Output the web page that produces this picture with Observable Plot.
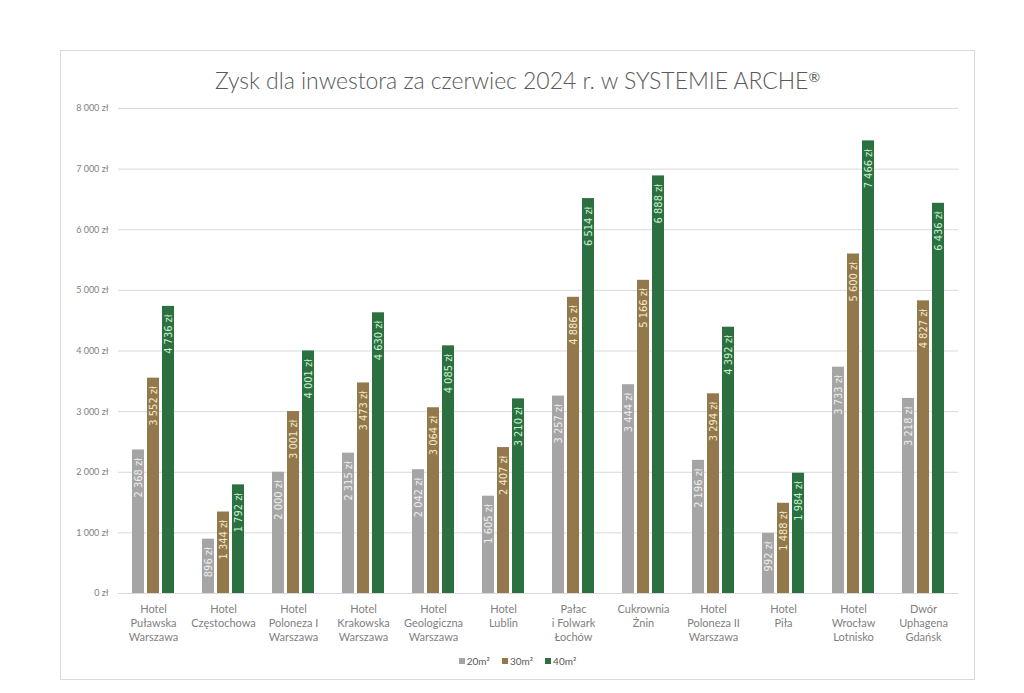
<!DOCTYPE html>
<html>
<head>
<meta charset="utf-8">
<script src="https://cdn.jsdelivr.net/npm/d3@7"></script>
<script src="https://cdn.jsdelivr.net/npm/@observablehq/plot@0.6"></script>
<style>
  body { margin: 0; background: #fff; width: 1024px; height: 693px; position: relative; overflow: hidden; font-family: Lato, "Open Sans", sans-serif; }
  #box { position: absolute; left: 60px; top: 50px; width: 915px; height: 630px; border: 1px solid #d9d9d9; box-sizing: border-box; }
  #title { position: absolute; left: 60px; width: 915px; top: 63px; text-align: center; font-size: 23px; line-height: 28px; color: #595959; font-weight: 300; letter-spacing: -0.05px; }
  #title .reg { font-size: 14px; vertical-align: 7px; font-weight: 400; }
  #chart { position: absolute; left: 61px; top: 98px; }
  #legend { position: absolute; left: 60px; width: 915px; top: 653px; text-align: center; font-size: 10px; line-height: 16px; color: #595959; }
  #legend span.item { margin: 0 6px; }
  #legend span.sw { display: inline-block; width: 6px; height: 6px; margin-right: 2px; vertical-align: 1px; }
</style>
</head>
<body>
<div id="box"></div>
<div id="title">Zysk dla inwestora za czerwiec 2024 r. w SYSTEMIE ARCHE<span class="reg">®</span></div>
<div id="chart"></div>
<div id="legend"></div>
<script>
const categories = [
  "Hotel\nPuławska\nWarszawa",
  "Hotel\nCzęstochowa",
  "Hotel\nPoloneza I\nWarszawa",
  "Hotel\nKrakowska\nWarszawa",
  "Hotel\nGeologiczna\nWarszawa",
  "Hotel\nLublin",
  "Pałac\ni Folwark\nŁochów",
  "Cukrownia\nŻnin",
  "Hotel\nPoloneza II\nWarszawa",
  "Hotel\nPiła",
  "Hotel\nWrocław\nLotnisko",
  "Dwór\nUphagena\nGdańsk"
];
const seriesNames = ["20m²", "30m²", "40m²"];
const values20 = [2368, 896, 2000, 2315, 2042, 1605, 3257, 3444, 2196, 992, 3733, 3218];
const values30 = [3552, 1344, 3001, 3473, 3064, 2407, 4886, 5166, 3294, 1488, 5600, 4827];
const values40 = [4736, 1792, 4001, 4630, 4085, 3210, 6514, 6888, 4392, 1984, 7466, 6436];
const yTicks = [0, 1000, 2000, 3000, 4000, 5000, 6000, 7000, 8000];
const seriesColors = ["#a5a5a5", "#93784b", "#2c6f41"];
const labelColors = ["#eeeeee", "#f3e9c9", "#c9f0cc"];

const loc = d3.formatLocale({thousands: "\u00a0", grouping: [3], decimal: ",", currency: ["", " zł"]});
const fmt = v => loc.format(",")(v).replace(/\u00a0/g, " ") + " zł";

const seriesValues = [values20, values30, values40];
const data = [];
categories.forEach((c, i) => {
  seriesNames.forEach((s, j) => {
    data.push({cat: c, series: s, value: seriesValues[j][i], si: j});
  });
});

const chart = Plot.plot({
  width: 913,
  height: 550,
  marginTop: 10,
  marginBottom: 55,
  marginLeft: 54,
  marginRight: 14,
  style: {background: "transparent"},
  fx: {domain: categories, padding: 0, label: null},
  x: {domain: seriesNames, paddingInner: 0.22, paddingOuter: 0.85, axis: null},
  y: {domain: [0, 8000], axis: null},
  color: {domain: seriesNames, range: seriesColors},
  marks: [
    Plot.ruleY(yTicks, {stroke: "#d9d9d9", strokeWidth: 1}),
    Plot.barY(data, {fx: "cat", x: "series", y: "value", fill: "series"}),
    Plot.text(data, {
      fx: "cat", x: "series", y: "value",
      text: d => fmt(d.value),
      rotate: -90,
      textAnchor: "end",
      dy: 8,
      fill: d => labelColors[d.si],
      fontSize: 11,
      fontFamily: "'Liberation Sans Narrow', 'DejaVu Sans Condensed', sans-serif"
    }),
    Plot.axisY({ticks: yTicks, tickFormat: fmt, tickSize: 0, tickPadding: 10, fontSize: 9, fill: "#7f7f7f", label: null, fontFamily: "Lato, sans-serif"}),
    Plot.axisFx({anchor: "bottom", tickSize: 0, tickPadding: 9, fontSize: 11, lineHeight: 1.3, fill: "#7f7f7f", label: null, fontFamily: "Lato, sans-serif"})
  ]
});
document.getElementById("chart").appendChild(chart);

const legend = document.getElementById("legend");
seriesNames.forEach((s, j) => {
  const item = document.createElement("span");
  item.className = "item";
  const sw = document.createElement("span");
  sw.className = "sw";
  sw.style.background = seriesColors[j];
  item.appendChild(sw);
  item.appendChild(document.createTextNode(s));
  legend.appendChild(item);
});
</script>
</body>
</html>
